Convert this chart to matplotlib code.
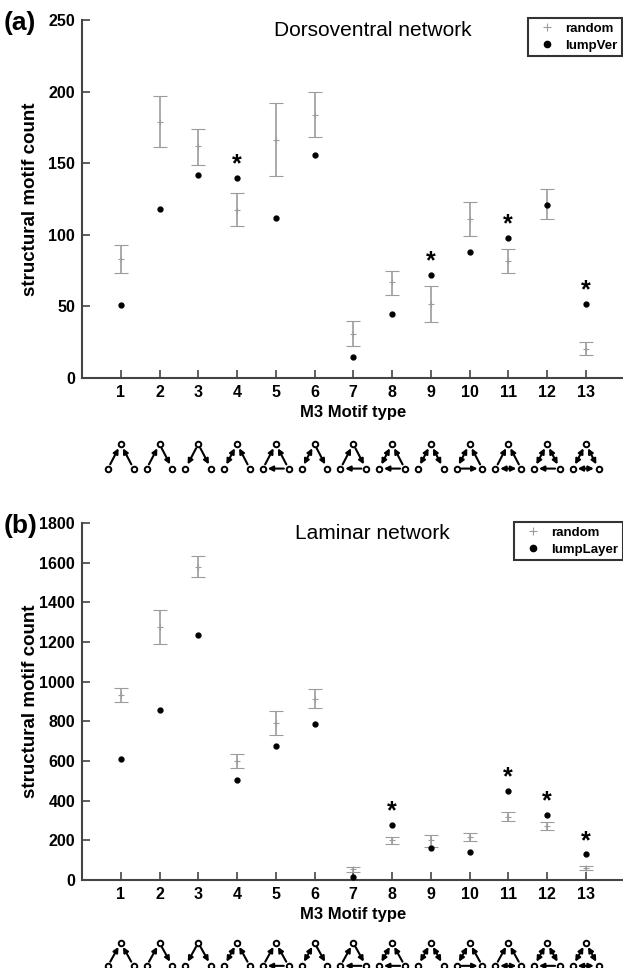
import numpy as np
import matplotlib.pyplot as plt
from matplotlib.lines import Line2D

# motif index
motifs = np.arange(1, 14)

# (a) dorsoventral network
dv_rand = [83, 179, 162, 117, 166, 184, 31, 67, 52, 111, 82, 121, 20]
dv_lo = [73, 161, 149, 106, 141, 168, 22, 58, 39, 99, 73, 111, 16]
dv_hi = [93, 197, 174, 129, 192, 200, 40, 75, 64, 123, 90, 132, 25]
dv_lump = [51, 118, 142, 140, 112, 156, 15, 45, 72, 88, 98, 121, 52]
dv_star = [4, 9, 11, 13]

# (b) laminar network
lam_rand = [932, 1275, 1580, 600, 790, 912, 55, 200, 200, 215, 320, 270, 60]
lam_lo = [898, 1190, 1530, 567, 730, 866, 42, 182, 168, 196, 300, 254, 49]
lam_hi = [966, 1362, 1632, 635, 852, 962, 66, 216, 228, 236, 342, 290, 70]
lam_lump = [611, 859, 1237, 505, 678, 788, 17, 278, 163, 140, 451, 328, 130]
lam_star = [8, 11, 12, 13]

# motif sketches: directed edges between Top, Left, Right nodes
# ("LT" = L -> T, "L=T" = both ways)
motif_edges = [
    ["LT", "RT"],
    ["LT", "TR"],
    ["TL", "TR"],
    ["L=T", "RT"],
    ["LT", "RT", "RL"],
    ["L=T", "TR"],
    ["LT", "TR", "RL"],
    ["L=T", "RT", "RL"],
    ["L=T", "R=T"],
    ["L=T", "RT", "LR"],
    ["LT", "RT", "L=R"],
    ["L=T", "R=T", "RL"],
    ["L=T", "R=T", "L=R"],
]

GRAY = "#9c9c9c"
SPINE = "#444444"

plt.rcParams["font.family"] = ["Liberation Sans", "DejaVu Sans"]

fig = plt.figure(figsize=(6.23, 9.68), dpi=100)
W, H = 623.0, 968.0


def px_axes(left, top, right, bottom):
    return fig.add_axes([left / W, 1 - bottom / H, (right - left) / W, (bottom - top) / H])


def panel(ax, rand, lo, hi, lump, stars, ymax, yticks, title, lumpname, tag, leg_left, leg_top):
    rand = np.array(rand)
    err = [rand - np.array(lo), np.array(hi) - rand]
    ax.errorbar(motifs, rand, yerr=err, fmt="+", color=GRAY, ecolor=GRAY,
                elinewidth=1.2, capsize=5, capthick=1.2, markersize=5, mew=0.8,
                zorder=2)
    ax.plot(motifs, lump, "o", color="black", markersize=3.5, zorder=3)
    for s in stars:
        ax.annotate("*", (s, lump[s - 1]), xytext=(0, 1), textcoords="offset points",
                    ha="center", va="bottom", fontsize=18, fontweight="bold")
    ax.set_xlim(0, 14)
    ax.set_ylim(0, ymax)
    ax.set_xticks(motifs)
    ax.set_yticks(yticks)
    for sp in ["top", "right"]:
        ax.spines[sp].set_visible(False)
    for sp in ["left", "bottom"]:
        ax.spines[sp].set_color(SPINE)
        ax.spines[sp].set_linewidth(1.5)
    ax.tick_params(direction="in", length=6, width=1.2, color=SPINE, pad=5)
    for lbl in ax.get_xticklabels() + ax.get_yticklabels():
        lbl.set_fontweight("bold")
        lbl.set_fontsize(11.5)
    ax.set_ylabel("structural motif count", fontsize=13.5, fontweight="bold")
    ax.yaxis.set_label_coords(-43 / 542.5, 0.5)
    ax.set_xlabel("M3 Motif type", fontsize=12, fontweight="bold", labelpad=4)
    ax.text(7.5, ymax * 0.97, title, ha="center", va="center", fontsize=15)

    handles = [Line2D([], [], marker="+", color=GRAY, linestyle="none", markersize=6, mew=0.8),
               Line2D([], [], marker="o", color="black", linestyle="none", markersize=4.5)]
    leg = fig.legend(handles, ["random", lumpname], loc="upper left",
                     bbox_to_anchor=(leg_left / W, 1 - leg_top / H),
                     frameon=True, fancybox=False, handlelength=2.2,
                     borderpad=0.35, labelspacing=0.35, handletextpad=0.3,
                     borderaxespad=0,
                     prop={"weight": "bold", "size": 9.5})
    leg.get_frame().set_edgecolor("black")
    leg.get_frame().set_linewidth(1.5)
    top_px = (1 - ax.get_position().y1) * H
    fig.text(4 / W, 1 - (top_px + 3) / H, tag, fontsize=19, fontweight="bold",
             ha="left", va="center")


def draw_motifs(ax):
    ax.set_xlim(0, 14)
    ax.set_ylim(0, 1)
    ax.axis("off")
    for i, edges in enumerate(motif_edges):
        x = motifs[i]
        pos = {"T": (x, 0.85), "L": (x - 0.33, 0.13), "R": (x + 0.33, 0.13)}
        for e in edges:
            if "=" in e:
                a, b = e[0], e[2]
                style = "<|-|>,head_length=0.3,head_width=0.15"
            else:
                a, b = e[0], e[1]
                style = "-|>,head_length=0.3,head_width=0.15"
            ax.annotate("", xy=pos[b], xytext=pos[a],
                        arrowprops=dict(arrowstyle=style, color="black", lw=1.5,
                                        shrinkA=3.4, shrinkB=3.4))
        xs = [pos[k][0] for k in "TLR"]
        ys = [pos[k][1] for k in "TLR"]
        ax.plot(xs, ys, "o", markersize=4, mfc="white", mec="black", mew=1.4,
                linestyle="none", zorder=5)


ax_a = px_axes(82, 20, 624.5, 378)
panel(ax_a, dv_rand, dv_lo, dv_hi, dv_lump, dv_star, 250, [0, 50, 100, 150, 200, 250],
      "Dorsoventral network", "lumpVer", "(a)", 528, 18)
mot_a = px_axes(82, 439, 624.5, 473)
draw_motifs(mot_a)

ax_b = px_axes(82, 523, 624.5, 880)
panel(ax_b, lam_rand, lam_lo, lam_hi, lam_lump, lam_star, 1800,
      [0, 200, 400, 600, 800, 1000, 1200, 1400, 1600, 1800],
      "Laminar network", "lumpLayer", "(b)", 514, 522)
mot_b = px_axes(82, 938, 624.5, 970)
draw_motifs(mot_b)

fig.savefig("out.png", dpi=100)
